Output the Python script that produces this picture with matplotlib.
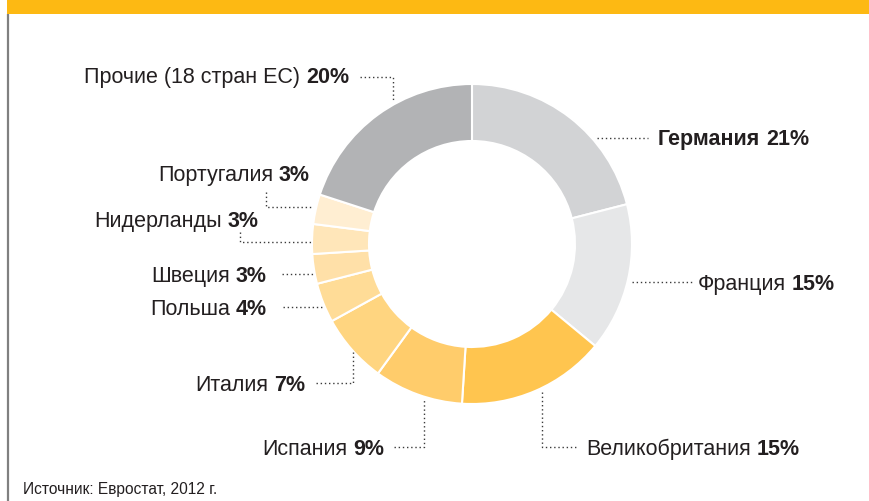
import matplotlib
matplotlib.use("Agg")
import matplotlib.pyplot as plt
from matplotlib.patches import Rectangle

plt.rcParams['font.family'] = ['Liberation Sans', 'DejaVu Sans']

# data
countries = ['Германия', 'Франция', 'Великобритания', 'Испания', 'Италия',
             'Польша', 'Швеция', 'Нидерланды', 'Португалия', 'Прочие (18 стран ЕС)']
shares = [21, 15, 15, 9, 7, 4, 3, 3, 3, 20]
colors = ['#D2D3D5', '#E6E7E8', '#FFC54F', '#FFCC6B', '#FFD580',
          '#FFDC97', '#FFE0A8', '#FFE6B9', '#FFEED2', '#B2B3B5']
source = 'Источник: Евростат, 2012 г.'

W, H = 869, 502
TXT = '#231F20'
FS = 15.5

fig = plt.figure(figsize=(W / 100, H / 100), dpi=100)
ax = fig.add_axes([0, 0, 1, 1])

def py(y):
    # pixel row -> data y
    return H - y

ax.pie(shares, colors=colors, startangle=90, counterclock=False,
       radius=160, center=(472, py(245)),
       wedgeprops=dict(width=57, edgecolor='white', linewidth=1.5))
ax.set_xlim(0, W)
ax.set_ylim(0, H)
ax.set_aspect('auto')
ax.axis('off')

# frame: orange bar on top + grey line on the left
ax.add_patch(Rectangle((7, py(15)), W - 7, 15, color='#FDB913', lw=0, clip_on=False))
ax.plot([7.5, 7.5], [py(15), py(502)], color='#808080', lw=1.6, solid_capstyle='butt')

renderer = fig.canvas.get_renderer()
space = 0.278 * FS * 100 / 72

# label layout: (text x, baseline y, side, leader path)
layout = {
    'Германия': (658, 145, 'right', [(597, 139), (648, 139)]),
    'Франция': (698, 290, 'right', [(632, 283), (692, 283)]),
    'Великобритания': (586, 455, 'right', [(542, 393), (542, 448), (576, 448)]),
    'Испания': (384, 455, 'left', [(394, 448), (424, 448), (424, 400)]),
    'Италия': (305, 391, 'left', [(316, 384), (353, 384), (353, 353)]),
    'Польша': (267, 315, 'left', [(283, 308), (323, 308)]),
    'Швеция': (267, 282, 'left', [(282, 275), (313, 275)]),
    'Нидерланды': (259, 227, 'left', [(240, 233), (240, 243), (313, 243)]),
    'Португалия': (310, 181, 'left', [(266, 193), (266, 208), (313, 208)]),
    'Прочие (18 стран ЕС)': (349, 83, 'left', [(360, 78), (393, 78), (393, 102)]),
}

for name, val in zip(countries, shares):
    x, yb, side, path = layout[name]
    name_w = 'bold' if name == 'Германия' else 'normal'
    vtxt = f'{val}%'
    if side == 'left':
        t = ax.text(x, py(yb), vtxt, ha='right', va='baseline', fontsize=FS,
                    fontweight='bold', color=TXT)
        w = t.get_window_extent(renderer).width
        ax.text(x - w - space, py(yb), name, ha='right', va='baseline',
                fontsize=FS, fontweight=name_w, color=TXT)
    else:
        t = ax.text(x, py(yb), name, ha='left', va='baseline', fontsize=FS,
                    fontweight=name_w, color=TXT)
        w = t.get_window_extent(renderer).width
        ax.text(x + w + space, py(yb), vtxt, ha='left', va='baseline',
                fontsize=FS, fontweight='bold', color=TXT)
    xs = [p[0] for p in path]
    ys = [py(p[1]) for p in path]
    ax.plot(xs, ys, color='#3A3A3A', lw=1.0, linestyle=(0, (1, 2)))

ax.text(23, py(494), source, ha='left', va='baseline', fontsize=11.2, color=TXT)

fig.savefig('out.png', dpi=100)
